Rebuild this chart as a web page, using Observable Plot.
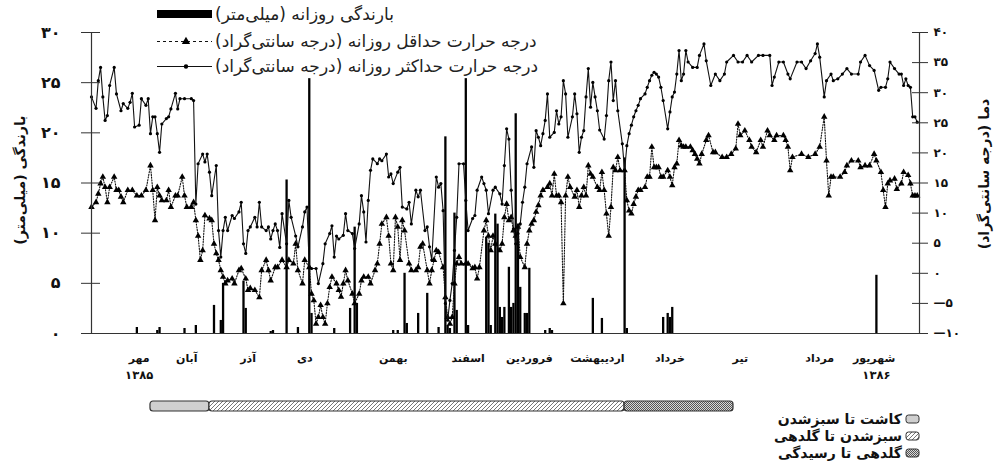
<!DOCTYPE html>
<html><head><meta charset="utf-8">
<script src="https://cdn.jsdelivr.net/npm/d3@7"></script>
<script src="https://cdn.jsdelivr.net/npm/@observablehq/plot@0.6"></script>
<style>
body{margin:0;background:#fff;}
#wrap{position:relative;width:994px;height:476px;overflow:hidden;background:#fff;}
#wrap svg{position:absolute;left:0;display:block;}
</style></head><body><div id="wrap"></div>
<script>
// ---- data (day index from start of record, value) ----
const tmax = [[0,29.3],[2,27.4],[3,32],[4,34.2],[5,29.3],[6,25.4],[7,26.2],[8,31.2],[10,34.2],[11,29.8],[13,27],[14,28.2],[16,27.4],[17,28.4],[18,29.9],[19,24.3],[21,24.6],[22,29],[24,27.9],[25,29],[26,23.2],[27,26],[28,26],[29,23.2],[30,20.1],[31,24.8],[33,25.7],[34,26],[35,27.3],[37,29.9],[38,27.3],[39,29],[41,29],[44,29],[45,28.7],[46,11.5],[47,18.2],[49,19.8],[50,18.5],[51,19.8],[52,16.8],[53,12.9],[55,17.9],[56,7.1],[57,2.7],[58,7.1],[59,9.3],[60,7.1],[62,9.6],[63,9.1],[65,10.2],[66,11.8],[67,4.9],[68,3.3],[69,7.1],[70,7.7],[72,9.3],[73,7.7],[74,11.8],[75,7.7],[77,7.1],[78,7.7],[79,5.7],[80,7.1],[81,8.2],[82,7.1],[83,4.3],[84,9.9],[86,4.9],[87,12.1],[88,9.3],[90,6.2],[91,4.4],[93,7.7],[94,10.2],[95,11],[96,1],[97,0.8],[99,0.8],[100,-1.7],[102,1.6],[103,4.9],[105,6.6],[106,7.9],[107,2.7],[108,6.2],[109,5.7],[111,6.3],[112,9.9],[113,7.1],[115,6.6],[116,4.1],[118,8.2],[119,12.9],[120,10.2],[121,5.2],[122,12.1],[123,17.1],[124,19],[126,18.2],[127,19],[128,18.7],[130,19.8],[131,16],[132,16.5],[133,14.9],[135,16.8],[136,17.6],[137,11],[139,10.7],[140,11.8],[141,8.2],[143,13.8],[144,12.7],[145,13.8],[147,7.1],[148,7.7],[149,4.4],[150,2.2],[152,16],[153,14.3],[154,14.9],[155,10.4],[156,-5],[157,-7.8],[158,-4.5],[159,-1.7],[160,3.8],[161,9.3],[162,18.2],[164,18.2],[165,12.1],[166,7.1],[168,9.1],[169,9.6],[170,13.8],[172,16],[173,14.9],[174,13.8],[175,9.9],[177,13.8],[178,14.3],[180,13.2],[181,11.5],[182,17.9],[183,24],[184,22.3],[185,13.8],[186,7.4],[187,4.9],[188,6.6],[189,8.2],[190,11.8],[191,14.3],[192,18.2],[194,21],[195,17.6],[196,23.7],[197,22.6],[198,21.2],[199,23.2],[200,25.4],[201,29.8],[202,22.6],[204,23.4],[205,27],[206,24.8],[207,26],[208,32],[209,29.8],[210,22.6],[212,26],[213,29.8],[214,26.5],[215,20.1],[216,22.6],[217,23.7],[218,29.3],[219,34],[220,27.6],[221,31.7],[222,29.3],[223,27],[224,23.8],[226,22.3],[227,26.2],[228,32],[229,35.1],[230,28.7],[231,32],[232,27],[234,21.5],[235,17.1],[236,21.2],[237,23.2],[238,24.6],[239,26],[240,27],[241,27.9],[242,29],[244,29.8],[245,30.9],[246,32],[247,32.9],[248,33.4],[249,33.1],[250,32.6],[251,30.9],[252,28.7],[254,24],[255,26.8],[256,29.3],[257,30.1],[258,33.1],[259,37],[260,32],[261,33.1],[262,37],[263,35.1],[265,34.2],[267,34.2],[268,36.2],[270,38.1],[271,35.3],[273,31.2],[275,33.1],[277,32],[279,33.1],[280,35.1],[283,36.2],[285,35.1],[287,35.1],[289,36.2],[291,35.1],[294,36.2],[296,36.2],[299,36.2],[300,31.2],[301,32.6],[303,35.1],[305,35.1],[307,33.1],[308,32.3],[311,35.1],[313,35.1],[315,34],[317,35.3],[319,36.5],[320,38.1],[321,35.9],[323,29.3],[324,32],[326,33.1],[327,32],[329,32.3],[331,33.1],[333,34],[335,33.1],[338,33.1],[339,35.1],[341,36.2],[343,34.5],[345,33.7],[347,30.4],[348,30.9],[350,30.9],[351,32.3],[352,35.1],[354,34],[356,33.1],[357,33.1],[358,31.2],[359,32.3],[360,31.2],[361,30.9],[362,26],[363,26],[364,25.1]];

const tmin = [[0,11],[2,11.8],[3,13.2],[4,14.9],[5,16],[6,14.3],[7,11.8],[8,14.3],[10,16],[11,13.8],[12,13.8],[13,12.7],[14,11.8],[16,13.8],[18,13.8],[20,12.9],[22,12.9],[24,13.8],[26,17.9],[27,13.8],[28,8.8],[29,14.3],[30,12.9],[31,12.1],[33,12.1],[34,13.8],[35,11],[37,12.9],[38,12.9],[40,16],[41,12.9],[42,11],[44,11],[45,11.8],[46,8.8],[47,6.2],[48,2.2],[49,3.8],[50,9.6],[52,9.1],[53,8.8],[54,4.9],[55,3.3],[56,2.2],[57,0.5],[58,-0.6],[59,-1.7],[60,-1.2],[62,-0.9],[63,-1.7],[65,0.5],[66,0.8],[68,-0.9],[69,-2.8],[70,-2.5],[72,-2.8],[74,-4],[75,0.5],[77,2.2],[78,0.5],[79,-1.2],[81,1],[82,1],[84,2.2],[86,1],[87,2.2],[89,1.6],[90,4.9],[91,0.5],[93,-1.7],[94,2.2],[96,1],[97,-3.4],[98,-4.5],[99,-8.4],[100,-7.3],[101,-5.3],[102,-7.3],[103,-8.4],[104,-5],[105,-2.3],[106,-0.6],[108,-1.7],[109,-2.8],[110,-3.9],[111,-1.7],[112,0.5],[113,-1.2],[115,-3.4],[116,-5],[118,-3.4],[119,-1.2],[120,-0.6],[122,-0.6],[123,-1.7],[125,0.5],[126,1.6],[127,4.9],[128,8.2],[130,9.3],[131,6.2],[132,1.6],[133,0.5],[134,9.3],[135,7.7],[136,2.2],[137,8.8],[138,7.1],[140,1.6],[141,0.5],[143,0.5],[144,1],[145,4.4],[146,4.9],[148,0.5],[149,-1.7],[150,0.5],[151,2.2],[152,3.8],[153,3.5],[155,1],[156,-4],[157,-7.3],[158,-8.4],[159,-7.3],[160,-1.7],[161,1.6],[162,2.7],[163,1.6],[165,1.6],[166,1.6],[168,0.8],[169,1],[170,-0.9],[171,1],[173,7.1],[174,8.8],[175,6.2],[176,3.8],[177,6.2],[178,4.9],[180,3.8],[181,4.9],[182,9.3],[183,11.5],[184,8.8],[185,9.3],[186,7.1],[187,6.2],[188,7.7],[189,2.7],[191,1],[192,4.9],[193,7.1],[194,8.2],[195,8.8],[196,10.2],[197,11.3],[198,12.9],[199,13.8],[201,14.3],[202,14.9],[203,12.9],[204,16.5],[205,12.9],[206,12.9],[207,11.8],[208,-5],[209,12.9],[210,16],[211,14.3],[213,12.7],[214,13.8],[215,11],[216,12.9],[217,14.3],[218,12.9],[219,17.9],[220,16.5],[221,16],[223,14.3],[224,13.8],[225,16.8],[226,13.8],[227,9.9],[228,6.2],[229,11],[230,17.6],[231,17.1],[232,19.3],[233,17.1],[235,17.1],[236,12.1],[237,10.4],[238,9.9],[239,11.5],[240,12.7],[241,13.8],[242,13.8],[244,14.3],[245,16],[246,16],[247,21],[248,17.6],[249,17.6],[250,17.6],[251,16],[252,16],[254,17.1],[255,16],[256,14.6],[257,17.6],[258,18.2],[259,22.1],[260,21.2],[261,21],[262,21],[264,21],[265,20.4],[266,19.8],[267,19],[268,18.2],[269,19.8],[271,22.1],[272,22.9],[274,20.1],[275,20.1],[278,19.3],[280,19.3],[282,19.8],[284,20.7],[285,24.8],[286,22.9],[288,23.7],[290,22.1],[291,21],[293,20.1],[295,22.1],[296,21],[298,23.7],[299,22.9],[301,22.1],[302,22.9],[305,22.9],[306,22.1],[307,21],[308,17.1],[309,19.3],[313,19.8],[316,19.3],[319,19.8],[321,21],[323,26],[324,18.7],[325,12.9],[326,16],[327,16],[330,16],[332,16.8],[333,17.9],[335,18.7],[338,18.7],[339,17.6],[341,17.9],[343,17.9],[345,19.8],[346,18.7],[348,16.8],[349,13.8],[350,11],[351,14.9],[352,15.4],[354,15.7],[355,14],[357,14.9],[358,16.8],[360,16.3],[361,14.9],[362,12.9],[363,12.9],[364,12.9]];

const rain = [[20,0.6],[29,0.3],[30,0.6],[41,0.5],[46,0.8],[54,2.8],[57,1.3],[58,5],[67,5.2],[68,2.5],[79,0.2],[80,0.3],[86,15.3],[91,0.6],[96,25.4],[97,2],[107,0.5],[114,2.5],[116,10.6],[117,3],[133,0.3],[135,0.3],[138,6],[139,1],[144,2],[148,4],[153,0.6],[156,19.6],[157,0.8],[158,0.5],[160,12],[161,2.3],[165,25.4],[166,0.8],[174,9.6],[175,9],[176,0.8],[178,11.9],[179,10.9],[180,2.6],[181,1.6],[182,2.6],[184,6.6],[185,2.6],[186,3],[187,21.9],[188,10.9],[189,4.6],[191,2],[192,2],[193,6.5],[200,0.3],[202,0.5],[203,0.3],[221,3.5],[225,1.5],[235,17.5],[236,0.5],[252,1.6],[254,2],[255,1.6],[256,2.6],[346,5.8]];

const rainTicks = [0,5,10,15,20,25,30];
const tempTicks = [-10,-5,0,5,10,15,20,25,30,35,40];
const monthDays = [21,42,69,94,133,166,193,223,255,286,321,345];
const monthNames = ["مهر","آبان","آذر","دی","بهمن","اسفند","فروردین","اردیبهشت","خرداد","تیر","مرداد","شهریور"];
const yearDays = [21,346];
const yearNames = ["۱۳۸۵","۱۳۸۶"];
const stageNames = ["کاشت تا سبزشدن","سبزشدن تا گلدهی","گلدهی تا رسیدگی"];
const stageStart = [26,52,235];
const stageEnd = [52,235,283];
const seriesNames = ["بارندگی روزانه (میلی‌متر)","درجه حرارت حداقل روزانه (درجه سانتی‌گراد)","درجه حرارت حداکثر روزانه (درجه سانتی‌گراد)"];
const yTitleLeft = "بارندگی (میلی‌متر)";
const yTitleRight = "دما (درجه سانتی‌گراد)";

// ---- helpers ----
const FA = "۰۱۲۳۴۵۶۷۸۹";
const fa = n => String(n).replace(/\d/g, d => FA[d]).replace("-", "\u2014");
const toY = t => (t + 10) * 0.6;          // temperature -> rainfall-axis units
const fromY = y => Math.round(y / 0.6 - 10);
const FONT = "'DejaVu Sans', sans-serif";
const stageFills = ["url(#pGray)", "url(#pHatch)", "url(#pDots)"];

const wrap = document.getElementById("wrap");

const main = Plot.plot({
  width: 994, height: 476,
  marginLeft: 91, marginRight: 75, marginTop: 32, marginBottom: 143,
  style: {fontFamily: FONT, background: "transparent", color: "#111"},
  x: {domain: [0, 365], axis: null},
  y: {domain: [0, 30], axis: null},
  marks: [
    Plot.ruleX(rain, {x: d => d[0], y1: 0, y2: d => d[1], stroke: "#000", strokeWidth: 2.3}),
    Plot.line(tmin, {x: d => d[0], y: d => toY(d[1]), stroke: "#111", strokeWidth: 1.1, strokeDasharray: "1.2,1.5"}),
    Plot.dot(tmin, {x: d => d[0], y: d => toY(d[1]), symbol: "triangle", r: 2.4, fill: "#000", stroke: "none"}),
    Plot.line(tmax, {x: d => d[0], y: d => toY(d[1]), stroke: "#111", strokeWidth: 1.1}),
    Plot.dot(tmax, {x: d => d[0], y: d => toY(d[1]), r: 1.6, fill: "#000", stroke: "none"}),
    Plot.ruleX([0, 365], {stroke: "#333", strokeWidth: 1.2}),
    Plot.ruleY([0], {stroke: "#333", strokeWidth: 1.2}),
    // left axis: crossing ticks + labels
    Plot.axisY({anchor: "left", ticks: rainTicks, tickSize: 19, dx: 9, tickFormat: () => "", stroke: "#333"}),
    Plot.axisY({anchor: "left", ticks: rainTicks, tickSize: 0, tickPadding: 31, tickFormat: fa,
      fontSize: 16, fontWeight: "bold", fill: "#111"}),
    // right axis (temperature): crossing ticks + labels
    Plot.axisY({anchor: "right", ticks: tempTicks.map(toY), tickSize: 16, dx: -8, tickFormat: () => "", stroke: "#333"}),
    Plot.axisY({anchor: "right", ticks: tempTicks.map(toY), tickSize: 0, tickPadding: 14,
      tickFormat: d => fa(fromY(d)), fontSize: 12, fontWeight: "bold", fill: "#111"}),
    // month labels and years
    Plot.axisX({anchor: "bottom", ticks: monthDays, tickSize: 0, tickPadding: 21,
      tickFormat: d => monthNames[monthDays.indexOf(d)], fontSize: 11, fontWeight: "bold", fill: "#111"}),
    Plot.axisX({anchor: "bottom", ticks: yearDays, tickSize: 0, tickPadding: 37,
      tickFormat: d => yearNames[yearDays.indexOf(d)], fontSize: 11.5, fontWeight: "bold", fill: "#111"})
  ]
});
main.style.top = "0px";
wrap.appendChild(main);

const stages = stageNames.map((name, i) => ({name, start: stageStart[i], end: stageEnd[i], fill: stageFills[i]}));
const stagePlot = Plot.plot({
  width: 994, height: 12,
  marginLeft: 91, marginRight: 75, marginTop: 1, marginBottom: 1,
  style: {background: "transparent", overflow: "visible"},
  x: {domain: [0, 365], axis: null},
  y: {axis: null},
  color: {type: "identity"},
  marks: [
    Plot.rect(stages, {x1: "start", x2: "end", fill: "fill", stroke: "#333", strokeWidth: 1.2, rx: 3})
  ]
});
stagePlot.style.top = "400px";
wrap.appendChild(stagePlot);

// ---- overlay: patterns, legends, axis titles ----
const ov = d3.select(wrap).append("svg")
  .attr("width", 994).attr("height", 476)
  .style("top", "0px").style("pointer-events", "none");
const defs = ov.append("defs");
const pg = defs.append("pattern").attr("id", "pGray").attr("patternUnits", "userSpaceOnUse").attr("width", 4).attr("height", 4);
pg.append("rect").attr("width", 4).attr("height", 4).attr("fill", "#cfcfcf");
const ph = defs.append("pattern").attr("id", "pHatch").attr("patternUnits", "userSpaceOnUse").attr("width", 4).attr("height", 4);
ph.append("rect").attr("width", 4).attr("height", 4).attr("fill", "#fff");
ph.append("path").attr("d", "M-1,1 L1,-1 M0,4 L4,0 M3,5 L5,3").attr("stroke", "#666").attr("stroke-width", 0.9);
const pd = defs.append("pattern").attr("id", "pDots").attr("patternUnits", "userSpaceOnUse").attr("width", 2).attr("height", 2);
pd.append("rect").attr("width", 2).attr("height", 2).attr("fill", "#d8d8d8");
pd.append("rect").attr("width", 1).attr("height", 1).attr("fill", "#555");
pd.append("rect").attr("x", 1).attr("y", 1).attr("width", 1).attr("height", 1).attr("fill", "#555");

// top legend
const lg = ov.append("g").attr("font-family", FONT).attr("font-size", 17).attr("fill", "#222");
const rowY = [14, 41.5, 66.5];
lg.append("rect").attr("x", 157).attr("y", rowY[0] - 4).attr("width", 55).attr("height", 8).attr("fill", "#000");
lg.append("line").attr("x1", 157).attr("x2", 212).attr("y1", rowY[1]).attr("y2", rowY[1])
  .attr("stroke", "#111").attr("stroke-width", 1.1).attr("stroke-dasharray", "3,3");
lg.append("path").attr("d", d3.symbol(d3.symbolTriangle, 30)()).attr("transform", `translate(186,${rowY[1]})`).attr("fill", "#000");
lg.append("line").attr("x1", 157).attr("x2", 212).attr("y1", rowY[2]).attr("y2", rowY[2])
  .attr("stroke", "#111").attr("stroke-width", 1.1);
lg.append("circle").attr("cx", 186).attr("cy", rowY[2]).attr("r", 2.2).attr("fill", "#000");
seriesNames.forEach((t, i) => {
  lg.append("text").attr("x", 215).attr("y", rowY[i]).attr("dy", "0.35em")
    .attr("direction", "rtl").attr("text-anchor", "end").text(t);
});

// axis titles
ov.append("text").attr("transform", "translate(20,180) rotate(-90)")
  .attr("font-family", FONT).attr("font-size", 14).attr("font-weight", "bold").attr("fill", "#111")
  .attr("direction", "rtl").attr("text-anchor", "middle").attr("dy", "0.35em").text(yTitleLeft);
ov.append("text").attr("transform", "translate(984,174) rotate(-90)")
  .attr("font-family", FONT).attr("font-size", 14).attr("font-weight", "bold").attr("fill", "#111")
  .attr("direction", "rtl").attr("text-anchor", "middle").attr("dy", "0.35em").text(yTitleRight);

// stage legend (bottom right)
const sg = ov.append("g").attr("font-family", FONT).attr("font-size", 14).attr("font-weight", "bold").attr("fill", "#111");
const sRow = [419, 436, 453];
stageNames.forEach((t, i) => {
  sg.append("rect").attr("x", 906).attr("y", sRow[i] - 4).attr("width", 13).attr("height", 8).attr("rx", 2.5)
    .attr("fill", stageFills[i]).attr("stroke", "#333").attr("stroke-width", 1);
  sg.append("text").attr("x", 902).attr("y", sRow[i]).attr("dy", "0.35em")
    .attr("direction", "rtl").attr("text-anchor", "start").text(t);
});
</script>
</body></html>
